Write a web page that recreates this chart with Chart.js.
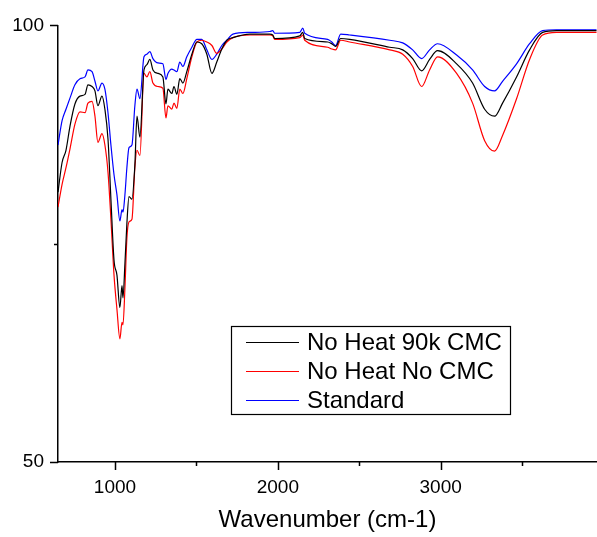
<!DOCTYPE html>
<html>
<head>
<meta charset="utf-8">
<script src="https://cdn.jsdelivr.net/npm/chart.js@4/dist/chart.umd.min.js"></script>
<style>
	html, body { margin: 0; padding: 0; background: #fff; }
	#wrap { width: 597px; height: 537px; position: relative; }
</style>
</head>
<body>
<div id="wrap"><canvas id="ftirChart"></canvas></div>
<script>
// Wavenumbers (cm-1) where the spectra were read
const wavenumbers = [650, 675, 699, 724, 754, 785, 816, 834, 859, 877, 895, 920, 938, 957, 975, 994, 1012, 1030, 1043, 1049,
	1061, 1073, 1086, 1104, 1122, 1135, 1153, 1178, 1196, 1214, 1233, 1264, 1294, 1313, 1325, 1349, 1362, 1380, 1398, 1417,
	1441, 1472, 1503, 1533, 1564, 1595, 1625, 1656, 1687, 1724, 1828, 1951, 1969, 1981, 2135, 2153, 2165, 2306, 2331, 2355,
	2386, 2441, 2687, 2767, 2828, 2883, 2932, 2981, 3098, 3196, 3270, 3331, 3380, 3466, 3546, 3626, 3711, 3957];

// Transmittance (%) for each sample
const noHeat90kCMC = [80.9, 84.3, 85.7, 88.5, 91.0, 91.9, 92.1, 93.2, 93.0, 92.5, 90.8, 91.9, 90.4, 87.0, 80.1, 73.1, 71.4, 67.7, 70.2, 68.8,
	72.7, 77.3, 80.4, 80.1, 84.0, 89.6, 87.2, 94.9, 95.5, 96.1, 94.9, 94.5, 94.1, 91.0, 92.7, 92.2, 93.0, 92.1, 93.9, 93.4,
	94.7, 96.7, 98.1, 97.9, 96.7, 94.5, 95.8, 97.3, 98.3, 98.6, 99.0, 99.0, 98.9, 98.5, 98.8, 99.2, 98.5, 98.1, 97.9, 97.6,
	98.5, 98.4, 97.5, 97.2, 96.2, 94.8, 96.1, 97.1, 95.6, 93.4, 90.4, 89.6, 91.1, 94.1, 97.2, 99.2, 99.4, 99.4];

const noHeatNoCMC = [79.2, 81.8, 83.7, 85.9, 88.7, 90.1, 90.0, 91.1, 91.3, 89.6, 86.6, 87.6, 86.3, 83.2, 77.8, 71.4, 67.5, 64.1, 66.0, 65.7,
	69.9, 75.6, 77.5, 77.8, 83.7, 85.7, 85.1, 94.5, 94.1, 94.7, 93.4, 93.0, 92.8, 89.4, 90.8, 90.4, 91.1, 90.5, 92.7, 92.2,
	93.9, 96.4, 98.1, 98.3, 98.1, 97.7, 96.8, 97.3, 98.1, 98.6, 98.9, 98.9, 98.8, 98.4, 98.6, 98.9, 98.3, 97.5, 97.3, 97.2,
	98.3, 98.1, 97.2, 96.7, 95.3, 93.0, 94.9, 96.4, 94.5, 91.1, 86.8, 85.6, 87.4, 91.6, 96.1, 98.9, 99.2, 99.2];

const standard = [86.3, 89.1, 90.4, 91.7, 93.2, 93.9, 94.1, 94.9, 94.7, 93.6, 92.5, 93.4, 92.7, 90.0, 86.3, 82.9, 80.6, 77.6, 78.9, 78.6,
	80.6, 83.7, 86.0, 86.3, 90.8, 92.7, 91.6, 96.4, 96.7, 97.0, 96.2, 95.7, 95.6, 93.8, 94.5, 95.0, 94.9, 94.7, 95.8, 95.3,
	96.4, 97.5, 98.4, 98.4, 97.2, 96.1, 96.7, 97.7, 98.3, 99.0, 99.2, 99.3, 99.4, 99.1, 99.2, 99.7, 99.1, 98.4, 98.1, 97.7,
	99.0, 98.9, 98.3, 98.0, 97.2, 96.2, 97.2, 97.9, 96.6, 94.9, 93.0, 92.5, 93.6, 95.6, 97.9, 99.4, 99.5, 99.5];

const seriesLabels = ["No Heat 90k CMC", "No Heat No CMC", "Standard"];
const seriesColors = ["#000000", "#ff0000", "#0000ff"];

// Tick values
const xMajorTicks = [1000, 2000, 3000];
const xMinorTicks = [1500, 2500, 3500];
const yMajorTicks = [50, 100];
const yMinorTicks = [75];

const FONT = "'Liberation Sans', Arial, sans-serif";

function toPoints(values) {
	return wavenumbers.map((w, i) => ({ x: w, y: values[i] }));
}

// Major + minor values, sorted, as Chart.js tick objects
function tickObjects(major, minor) {
	return major.concat(minor).sort((a, b) => a - b).map((v) => ({ value: v }));
}

// Draws the tick marks (long for major, short for minor) and the boxed legend
const decorPlugin = {
	id: "decor",
	afterDraw(chart) {
		const ctx = chart.ctx;
		const xs = chart.scales.x;
		const ys = chart.scales.y;
		const area = chart.chartArea;
		ctx.save();
		ctx.strokeStyle = "#000";
		ctx.lineWidth = 1.5;
		ctx.beginPath();
		xMajorTicks.forEach((v) => {
			const px = Math.round(xs.getPixelForValue(v)) + 0.5;
			ctx.moveTo(px, area.bottom);
			ctx.lineTo(px, area.bottom + 8);
		});
		xMinorTicks.forEach((v) => {
			const px = Math.round(xs.getPixelForValue(v)) + 0.5;
			ctx.moveTo(px, area.bottom);
			ctx.lineTo(px, area.bottom + 4);
		});
		yMajorTicks.forEach((v) => {
			const py = Math.round(ys.getPixelForValue(v)) + 0.5;
			ctx.moveTo(area.left, py);
			ctx.lineTo(area.left - 8, py);
		});
		yMinorTicks.forEach((v) => {
			const py = Math.round(ys.getPixelForValue(v)) + 0.5;
			ctx.moveTo(area.left, py);
			ctx.lineTo(area.left - 4, py);
		});
		ctx.stroke();

		// legend box
		const boxLeft = 231, boxTop = 326, boxWidth = 279, boxHeight = 88;
		ctx.lineWidth = 1.2;
		ctx.strokeRect(boxLeft + 0.5, boxTop + 0.5, boxWidth, boxHeight);
		ctx.font = "24px " + FONT;
		ctx.textBaseline = "middle";
		ctx.textAlign = "left";
		chart.data.datasets.forEach((ds, i) => {
			const rowY = boxTop + 16 + i * 29;
			ctx.strokeStyle = ds.borderColor;
			ctx.lineWidth = 1;
			ctx.beginPath();
			ctx.moveTo(boxLeft + 15, rowY + 0.5);
			ctx.lineTo(boxLeft + 68, rowY + 0.5);
			ctx.stroke();
			ctx.fillStyle = "#000";
			ctx.fillText(ds.label, boxLeft + 76, rowY + 1);
		});
		ctx.restore();
	},
};

const datasets = [noHeat90kCMC, noHeatNoCMC, standard].map((vals, i) => ({
	label: seriesLabels[i],
	data: toPoints(vals),
	borderColor: seriesColors[i],
	borderWidth: 1.2,
	pointRadius: 0,
	fill: false,
	cubicInterpolationMode: "monotone",
}));

new Chart(document.getElementById("ftirChart"), {
	type: "line",
	data: { datasets: datasets },
	options: {
		responsive: true,
		maintainAspectRatio: false,
		animation: false,
		layout: { padding: { top: 18, right: 0, left: 0, bottom: 0 } },
		plugins: {
			legend: { display: false },
			tooltip: { enabled: false },
		},
		scales: {
			x: {
				type: "linear",
				min: 650,
				max: 3960,
				afterBuildTicks: (scale) => { scale.ticks = tickObjects(xMajorTicks, xMinorTicks); },
				afterFit: (scale) => { scale.height = 75; },
				grid: { display: true, drawOnChartArea: false, drawTicks: false },
				border: { display: true, color: "#000", width: 1.5 },
				ticks: {
					autoSkip: false,
					maxRotation: 0,
					padding: 14,
					color: "#000",
					font: { family: FONT, size: 19 },
					callback: (value) => (xMajorTicks.includes(value) ? String(value) : ""),
				},
				title: {
					display: true,
					text: "Wavenumber (cm-1)",
					color: "#000",
					font: { family: FONT, size: 24 },
					padding: { top: 0, bottom: 2 },
				},
			},
			y: {
				type: "linear",
				min: 50,
				max: 100,
				afterBuildTicks: (scale) => { scale.ticks = tickObjects(yMajorTicks, yMinorTicks); },
				afterFit: (scale) => { scale.width = 58; },
				grid: { display: true, drawOnChartArea: false, drawTicks: false },
				border: { display: true, color: "#000", width: 1.5 },
				ticks: {
					padding: 14,
					color: "#000",
					font: { family: FONT, size: 19 },
					callback: (value) => (yMajorTicks.includes(value) ? String(value) : ""),
				},
			},
		},
	},
	plugins: [decorPlugin],
});
</script>
</body>
</html>
